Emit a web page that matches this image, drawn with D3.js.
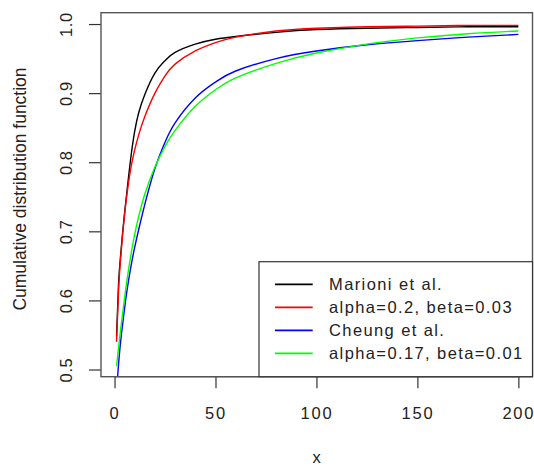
<!DOCTYPE html>
<html>
<head>
<meta charset="utf-8">
<script src="https://cdn.jsdelivr.net/npm/d3@7"></script>
<style>
  body { margin: 0; background: #fff; }
  text { font-family: "Liberation Sans", Arial, sans-serif; fill: #222; }
</style>
</head>
<body>
<div id="chart"></div>
<script>
// Data
const xs = [1, 2, 3, 4, 5, 6, 8, 10, 12, 15, 20, 25, 30, 40, 50, 60, 80, 100, 125, 150, 175, 200];
const marioni = [0.548, 0.625, 0.665, 0.698, 0.727, 0.754, 0.805, 0.845, 0.872, 0.898, 0.929, 0.947, 0.959, 0.971, 0.978, 0.982, 0.988, 0.992, 0.994, 0.995, 0.996, 0.996];
const fitMarioni = [0.54, 0.615, 0.66, 0.695, 0.725, 0.75, 0.79, 0.818, 0.84, 0.866, 0.900, 0.925, 0.942, 0.961, 0.973, 0.981, 0.990, 0.994, 0.996, 0.997, 0.998, 0.998];
const cheung = [0.47, 0.508, 0.54, 0.565, 0.589, 0.611, 0.647, 0.677, 0.703, 0.739, 0.791, 0.829, 0.857, 0.893, 0.916, 0.932, 0.950, 0.961, 0.970, 0.976, 0.981, 0.985];
const fitCheung = [0.505, 0.532, 0.557, 0.581, 0.604, 0.626, 0.664, 0.696, 0.722, 0.754, 0.793, 0.823, 0.846, 0.881, 0.905, 0.922, 0.943, 0.958, 0.971, 0.980, 0.986, 0.990];

const seriesNames = ["Marioni et al.", "alpha=0.2, beta=0.03", "Cheung et al.", "alpha=0.17, beta=0.01"];
const seriesColors = ["#000000", "#ff0000", "#0000ff", "#00ff00"];
const seriesValues = [marioni, fitMarioni, cheung, fitCheung];

const xTicks = [0, 50, 100, 150, 200];
const yTicks = [0.5, 0.6, 0.7, 0.8, 0.9, 1.0];

//==========================================
// Layout
//==========================================
const W = 534, H = 466;
const plot = { left: 101, right: 532.5, top: 12.7, bottom: 376.7 };

const svg = d3.select("#chart").append("svg")
  .attr("width", W)
  .attr("height", H);

const x = d3.scaleLinear().domain([-6.7, 207]).range([plot.left, plot.right]);
const y = d3.scaleLinear().domain([0.4896, 1.0164]).range([plot.bottom, plot.top]);

// Clip curves to the plot region
svg.append("clipPath").attr("id", "clip")
  .append("rect")
  .attr("x", plot.left).attr("y", plot.top)
  .attr("width", plot.right - plot.left)
  .attr("height", plot.bottom - plot.top);

//==========================================
// Curves
//==========================================
const line = d3.line()
  .x((d, i) => x(xs[i]))
  .y(d => y(d))
  .curve(d3.curveNatural);

svg.append("g").attr("clip-path", "url(#clip)")
  .selectAll("path")
  .data(seriesValues)
  .enter().append("path")
  .attr("d", d => line(d))
  .style("fill", "none")
  .style("stroke", (d, i) => seriesColors[i])
  .style("stroke-width", 1.4);

//==========================================
// Axes (R style)
//==========================================
const xAxis = svg.append("g")
  .attr("transform", `translate(0,${plot.bottom})`)
  .call(d3.axisBottom(x).tickValues(xTicks).tickSize(11.5).tickPadding(19).tickFormat(d3.format("d")));

const yAxis = svg.append("g")
  .attr("transform", `translate(${plot.left},0)`)
  .call(d3.axisLeft(y).tickValues(yTicks).tickSize(12).tickFormat(d3.format(".1f")));

[xAxis, yAxis].forEach(ax => {
  ax.select(".domain").remove();
  ax.selectAll("line").style("stroke", "#333").style("stroke-width", 1.2);
  ax.selectAll("text").style("font-size", "16.5px").style("fill", "#222")
    .style("font-family", "'Liberation Sans', Arial, sans-serif");
});

xAxis.selectAll("text").style("letter-spacing", "1.8px");

// rotated y tick labels
yAxis.selectAll("text")
  .attr("x", null).attr("dy", null)
  .attr("text-anchor", "middle")
  .style("letter-spacing", "0.6px")
  .attr("transform", "translate(-29.5,0) rotate(-90)");

// axis line along the x ticks
svg.append("line")
  .attr("x1", x(0)).attr("x2", x(200))
  .attr("y1", plot.bottom).attr("y2", plot.bottom)
  .style("stroke", "#333").style("stroke-width", 1.2);

// plot box
svg.append("rect")
  .attr("x", plot.left).attr("y", plot.top)
  .attr("width", plot.right - plot.left)
  .attr("height", plot.bottom - plot.top)
  .style("fill", "none")
  .style("stroke", "#555")
  .style("stroke-width", 1.4);

// axis titles
svg.append("text")
  .attr("x", 316.7)
  .attr("y", 463)
  .attr("text-anchor", "middle")
  .style("font-size", "16.5px")
  .text("x");

svg.append("text")
  .attr("transform", "translate(25.5,189) rotate(-90)")
  .attr("text-anchor", "middle")
  .style("font-size", "17.5px")
  .text("Cumulative distribution function");

//==========================================
// Legend
//==========================================
const legend = { left: 259, top: 261.7, right: plot.right, bottom: plot.bottom, rowY: 284.3, rowGap: 23 };

svg.append("rect")
  .attr("x", legend.left).attr("y", legend.top)
  .attr("width", legend.right - legend.left)
  .attr("height", legend.bottom - legend.top)
  .style("fill", "#fff")
  .style("stroke", "#333")
  .style("stroke-width", 1.2);

const rows = svg.append("g").selectAll("g")
  .data(seriesNames)
  .enter().append("g")
  .attr("transform", (d, i) => `translate(0,${legend.rowY + i * legend.rowGap})`);

rows.append("line")
  .attr("x1", 275).attr("x2", 312.7)
  .style("stroke", (d, i) => seriesColors[i])
  .style("stroke-width", 1.8);

rows.append("text")
  .attr("x", 329)
  .attr("dy", "0.35em")
  .style("font-size", "16.5px")
  .style("letter-spacing", "1.4px")
  .text(d => d);
</script>
</body>
</html>
